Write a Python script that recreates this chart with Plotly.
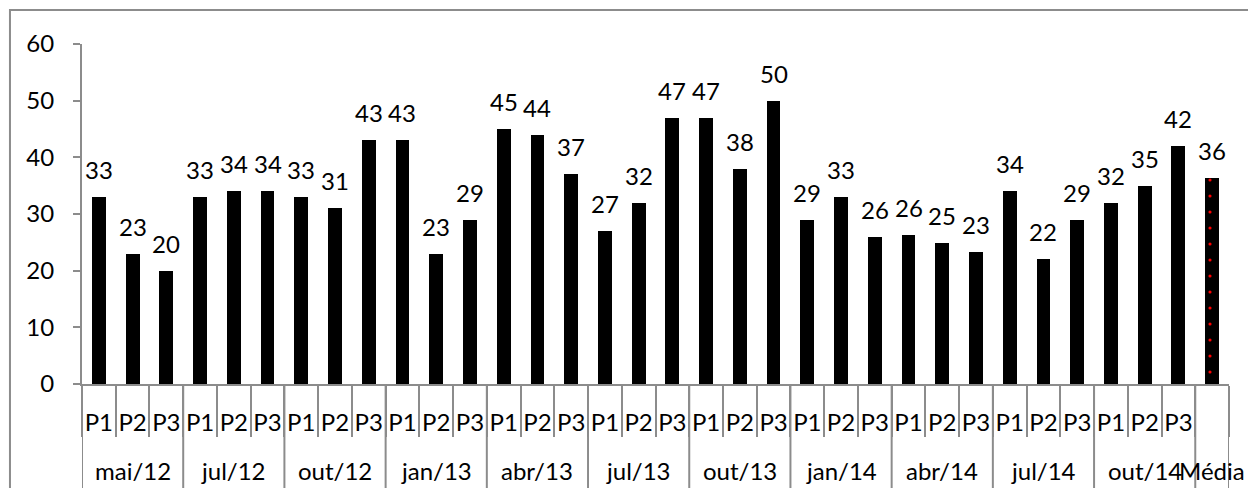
import plotly.graph_objects as go

groups = ["mai/12", "jul/12", "out/12", "jan/13", "abr/13", "jul/13",
          "out/13", "jan/14", "abr/14", "jul/14", "out/14"]
periods = ["P1", "P2", "P3"]
values = [33, 23, 20,
          33, 34, 34,
          33, 31, 43,
          43, 23, 29,
          45, 44, 37,
          27, 32, 47,
          47, 38, 50,
          29, 33, 26,
          26.3, 24.8, 23.3,
          34, 22, 29,
          32, 35, 42]
media_label = "Média"
media_value = 36.3

FONT = "Lato"
FS = 24
GRAY = "#8c8c8c"

n = len(values)
x_main = list(range(n))
x_media = n

fig = go.Figure()
fig.add_trace(go.Bar(
    x=x_main, y=values, width=0.41,
    marker=dict(color="black", line=dict(width=0)),
    hoverinfo="skip", showlegend=False,
))
fig.add_trace(go.Bar(
    x=[x_media], y=[media_value], width=0.41,
    marker=dict(color="black", line=dict(width=0),
                pattern=dict(shape=".", fgcolor="#ff0000", bgcolor="black",
                             size=16, solidity=0.03, fillmode="replace")),
    hoverinfo="skip", showlegend=False,
))

annotations = []
all_x = x_main + [x_media]
all_v = values + [media_value]
for xv, v in zip(all_x, all_v):
    annotations.append(dict(
        x=xv, y=v, xref="x", yref="y", text=f"{round(v)}",
        showarrow=False, yanchor="bottom", yshift=11,
        font=dict(family=FONT, size=FS, color="black"),
    ))

# group labels
group_centers = [i * 3 + 1 for i in range(len(groups))] + [x_media]
for g, c in zip(groups + [media_label], group_centers):
    annotations.append(dict(
        x=c, y=-0.255, xref="x", yref="paper", text=g,
        showarrow=False, yanchor="middle",
        font=dict(family=FONT, size=FS, color="black"),
    ))

shapes = []
# group dividers
bounds = [i * 3 - 0.5 for i in range(len(groups) + 1)] + [x_media + 0.5]
for b in bounds:
    shapes.append(dict(type="line", xref="x", yref="paper",
                       x0=b, x1=b, y0=0, y1=-0.5,
                       line=dict(color=GRAY, width=2)))
# outer border
shapes.append(dict(type="rect", xref="paper", yref="paper",
                   x0=-0.0628, x1=1.2, y0=1.0999, y1=-0.6,
                   line=dict(color=GRAY, width=2), fillcolor="rgba(0,0,0,0)",
                   layer="below"))

tickvals = all_x
ticktext = periods * len(groups) + [""]

fig.update_layout(
    width=1248, height=488,
    margin=dict(l=82, r=19, t=44, b=103.5, pad=0),
    paper_bgcolor="white", plot_bgcolor="white",
    font=dict(family=FONT, size=FS, color="black"),
    bargap=0,
    annotations=annotations,
    shapes=shapes,
    xaxis=dict(
        range=[-0.5, n + 0.5],
        tickmode="array", tickvals=tickvals, ticktext=ticktext,
        ticks="", showgrid=False, zeroline=False,
        showline=True, linecolor=GRAY, linewidth=2,
        ticklabelstandoff=16,
        tickfont=dict(family=FONT, size=FS, color="black"),
        minor=dict(tick0=0.5, dtick=1, ticks="outside", ticklen=51,
                   tickcolor=GRAY, tickwidth=2, showgrid=False),
    ),
    yaxis=dict(
        range=[0, 60], tickmode="linear", tick0=0, dtick=10,
        ticks="outside", ticklen=7, tickcolor=GRAY, tickwidth=2,
        showline=True, linecolor=GRAY, linewidth=2,
        showgrid=False, zeroline=False,
        ticklabelstandoff=14,
        tickfont=dict(family=FONT, size=FS, color="black"),
    ),
)

fig.write_html("out.html")
